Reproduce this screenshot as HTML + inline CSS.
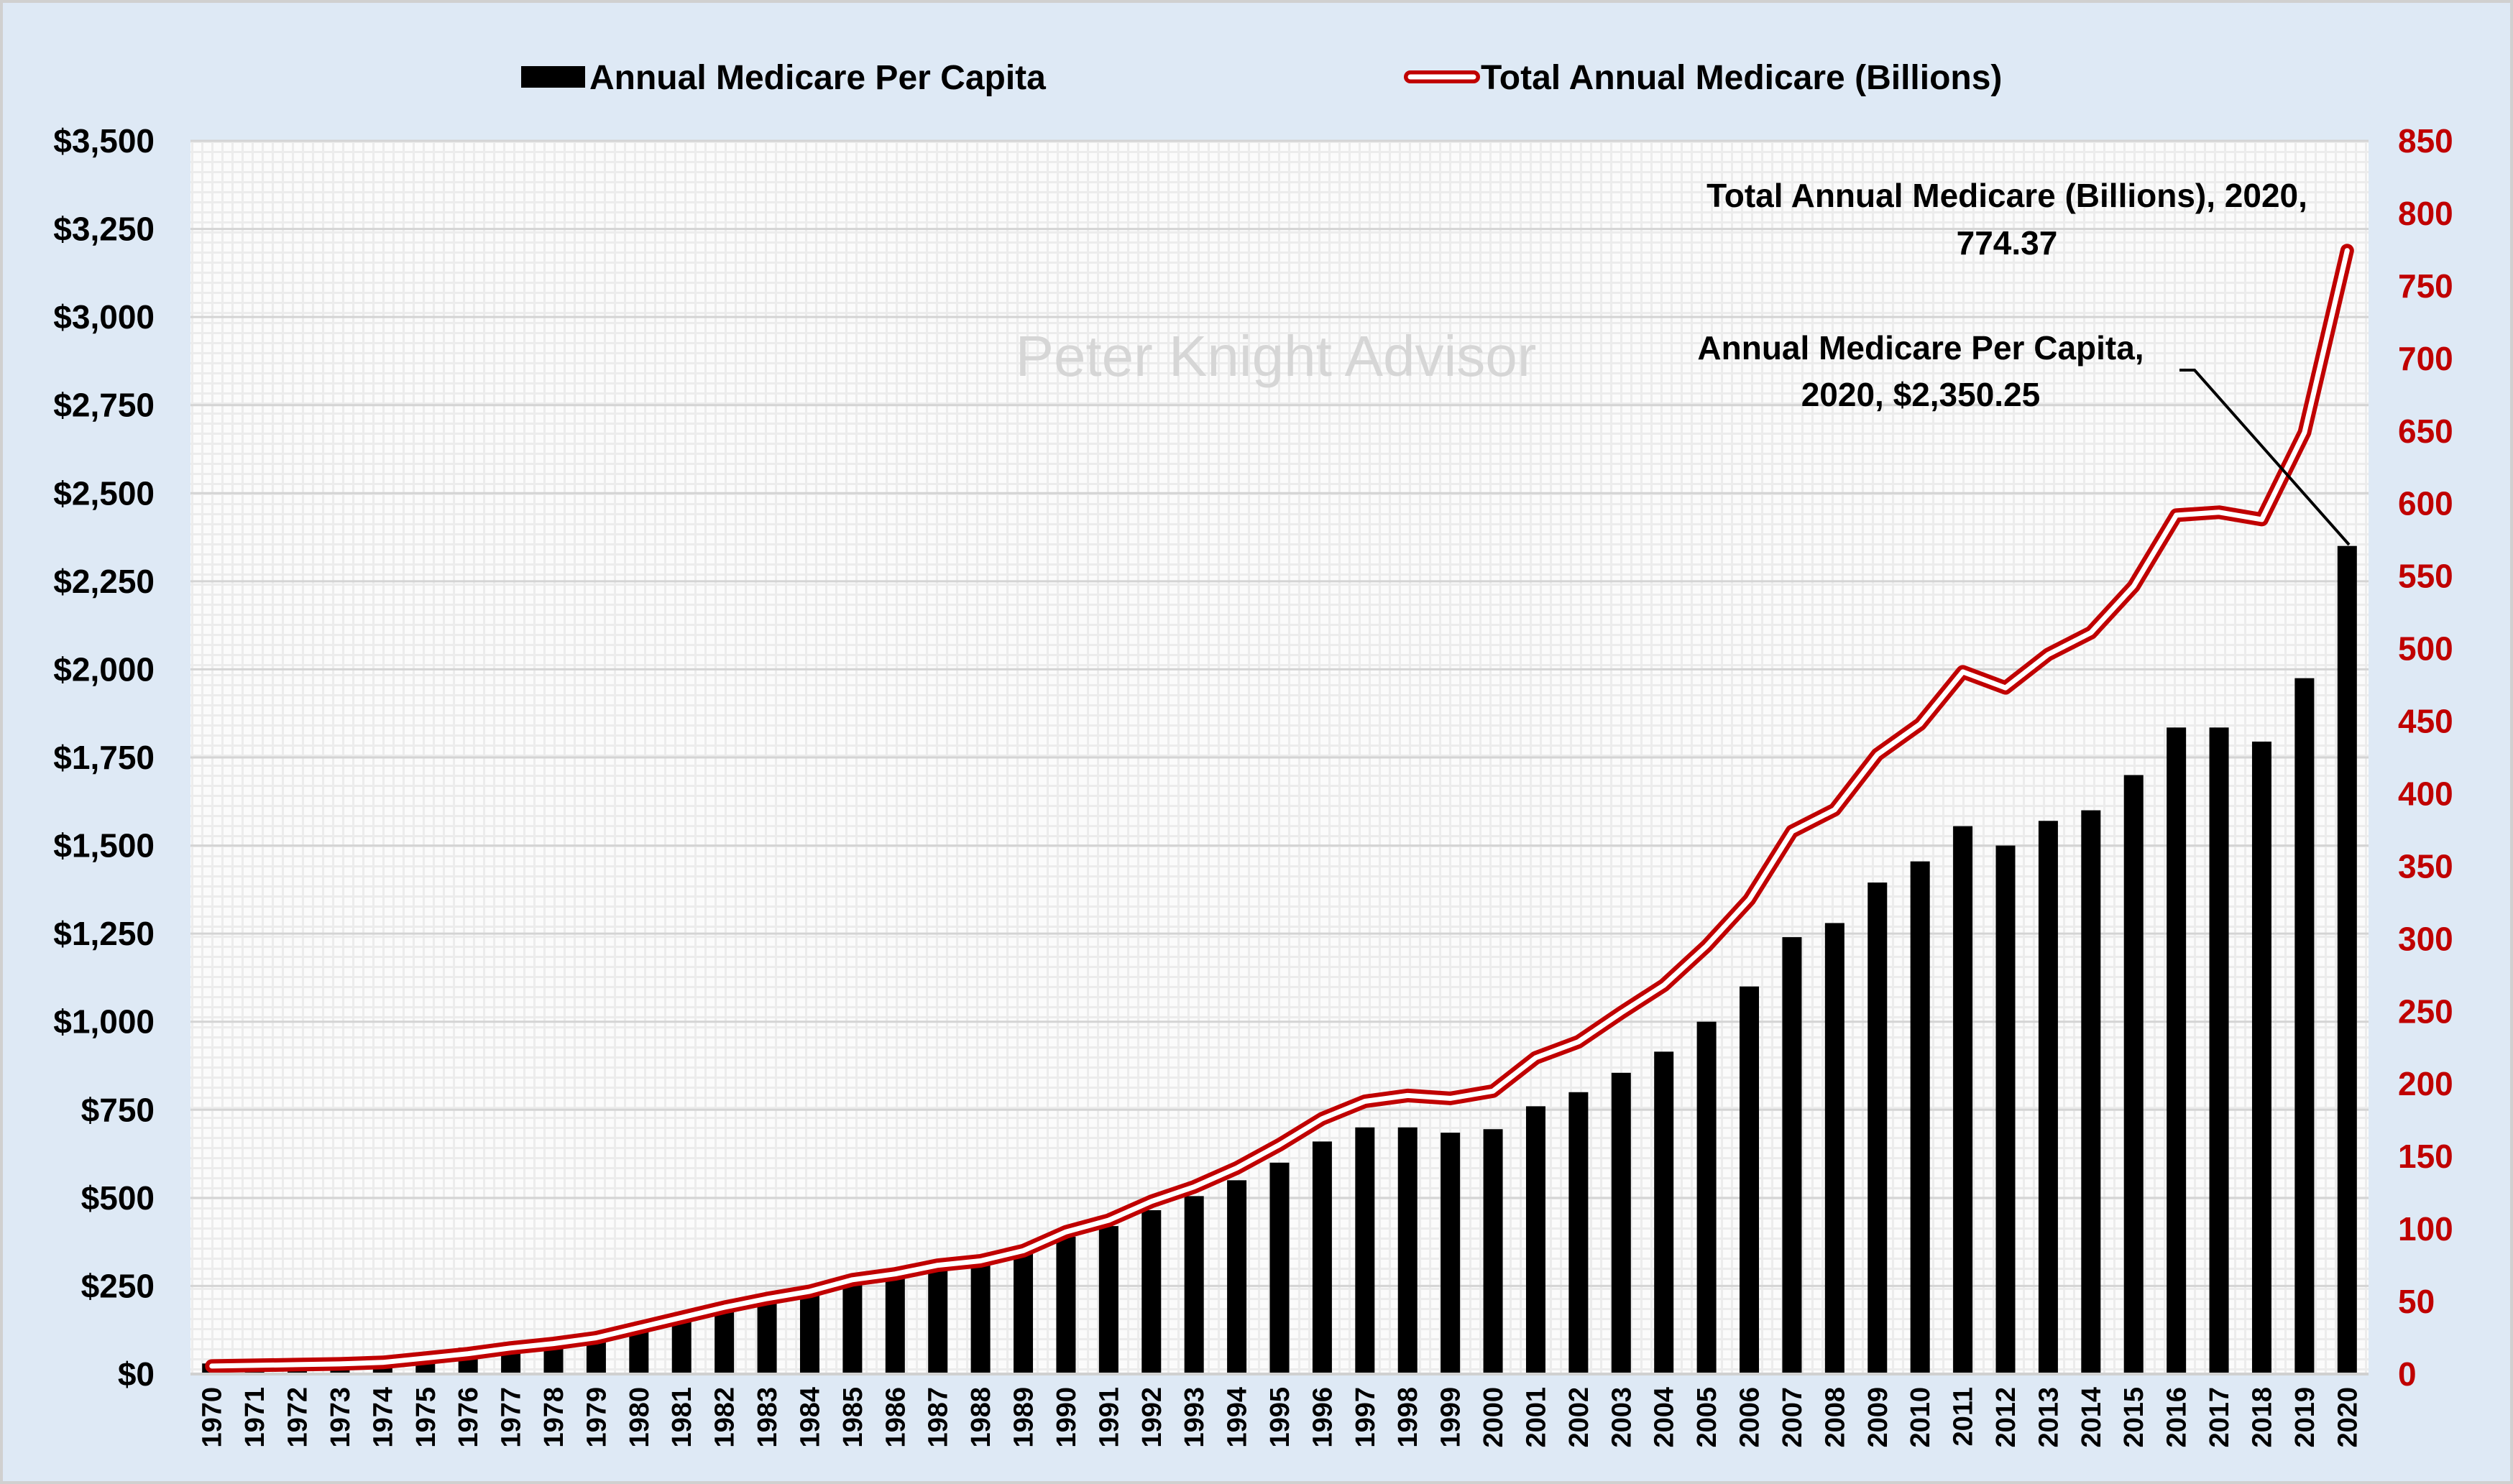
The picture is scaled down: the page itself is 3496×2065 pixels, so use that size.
<!DOCTYPE html>
<html><head><meta charset="utf-8"><style>
html,body{margin:0;padding:0;background:#dee9f5;}
svg{display:block;font-family:"Liberation Sans",sans-serif;}
</style></head><body>
<svg id="chart" width="3496" height="2065" viewBox="0 0 3496 2065" xmlns="http://www.w3.org/2000/svg">
<defs>
<pattern id="minor" width="14" height="14" patternUnits="userSpaceOnUse">
<rect width="14" height="14" fill="#ececec"/>
<rect x="3" y="3" width="11" height="11" fill="#fbfbfb"/>
</pattern>
</defs>
<rect x="2" y="2" width="3492" height="2061" fill="#dee9f5" stroke="#d0d0d0" stroke-width="4"/>
<rect x="265" y="196" width="3030" height="1716" fill="url(#minor)"/>
<g id="grid"></g>
<text x="1775" y="523" font-size="80" fill="#d6d6d6" text-anchor="middle">Peter Knight Advisor</text>
<g id="bars"></g>
<g id="line"></g>
<g id="axes"></g>
<g>
<rect x="725" y="92" width="89" height="30" fill="#000"/>
<text x="820" y="124" font-size="48" font-weight="bold">Annual Medicare Per Capita</text>
<line x1="1962" y1="107" x2="2050" y2="107" stroke="#c00000" stroke-width="18" stroke-linecap="round"/>
<line x1="1962" y1="107" x2="2050" y2="107" stroke="#fff" stroke-width="7" stroke-linecap="round"/>
<text x="2060" y="124" font-size="48" font-weight="bold">Total Annual Medicare (Billions)</text>
</g>
<g font-size="46" font-weight="bold" text-anchor="middle">
<text x="2792" y="288">Total Annual Medicare (Billions), 2020,</text>
<text x="2792" y="354">774.37</text>
<text x="2672" y="500">Annual Medicare Per Capita,</text>
<text x="2672" y="565">2020, $2,350.25</text>
</g>
<polyline points="3032,515 3053,515 3268,758" fill="none" stroke="#000" stroke-width="4"/>
</svg>
<script>
const years = [];
for (let y = 1970; y <= 2020; y++) years.push(String(y));
const perCapita = [30,33,36,40,50,62,75,88,102,118,142,170,198,222,240,270,285,305,318,345,390,420,465,505,550,600,660,700,700,685,695,760,800,855,915,1000,1100,1240,1280,1395,1455,1555,1500,1570,1600,1700,1835,1835,1795,1975,2350.25];
const totalBillions = [5.5,6,6.5,7,8,11,14,18,21,25,32,39,46,52,57,65,69,75,78,85,98,106,119,129,142,158,176,188,192,190,195,218,229,249,268,295,327,374,389,427,448,484,473,496,511,543,592,594,589,649,774.37];
const leftTicks = [0,250,500,750,1000,1250,1500,1750,2000,2250,2500,2750,3000,3250,3500];
const rightTicks = [0,50,100,150,200,250,300,350,400,450,500,550,600,650,700,750,800,850];

const NS = "http://www.w3.org/2000/svg";
const L = 265, R = 3295, T = 196, B = 1912;
const step = (R - L) / years.length;
const xC = i => L + step * (i + 0.5);
const yL = v => B - (v / 3500) * (B - T);
const yR = v => B - (v / 850) * (B - T);
function mk(tag, attrs, parent) {
  const e = document.createElementNS(NS, tag);
  for (const k in attrs) e.setAttribute(k, attrs[k]);
  parent.appendChild(e);
  return e;
}
const grid = document.getElementById('grid');
leftTicks.forEach(t => {
  const g = mk('line', {x1: L, x2: R, y1: yL(t), y2: yL(t), stroke: '#d4d4d4', 'stroke-width': 3}, grid);
  
  
});
const bars = document.getElementById('bars');
const bw = 27;
perCapita.forEach((v, i) => {
  const r = mk('rect', {x: xC(i) - bw / 2, y: yL(v), width: bw, height: B - yL(v), fill: '#000'}, bars);
  
  
});
const lineG = document.getElementById('line');
const pts = totalBillions.map((v, i) => xC(i).toFixed(1) + ',' + yR(v).toFixed(1)).join(' ');
const l1 = mk('polyline', {points: pts, fill: 'none', stroke: '#c00000', 'stroke-width': 19, 'stroke-linejoin': 'round', 'stroke-linecap': 'round'}, lineG);


const l2 = mk('polyline', {points: pts, fill: 'none', stroke: '#fff', 'stroke-width': 7, 'stroke-linejoin': 'round', 'stroke-linecap': 'round'}, lineG);


const axes = document.getElementById('axes');
const base = mk('line', {x1: L, x2: R, y1: B, y2: B, stroke: '#d0d0d0', 'stroke-width': 4}, axes);


leftTicks.forEach(t => {
  const tx = mk('text', {x: 215, y: yL(t) + 16, 'font-size': 46, 'font-weight': 'bold', 'text-anchor': 'end'}, axes);
  tx.textContent = '$' + t.toLocaleString('en-US');
  
  
});
rightTicks.forEach(t => {
  const tx = mk('text', {x: 3336, y: yR(t) + 16, 'font-size': 46, 'font-weight': 'bold', fill: '#c00000'}, axes);
  tx.textContent = String(t);
  
  
});
years.forEach((y, i) => {
  const tx = mk('text', {x: 0, y: 0, 'font-size': 38, 'font-weight': 'bold', 'text-anchor': 'end', transform: 'translate(' + (xC(i) + 13) + ',1930) rotate(-90)'}, axes);
  tx.textContent = y;
  
  
});
</script>
</body></html>
